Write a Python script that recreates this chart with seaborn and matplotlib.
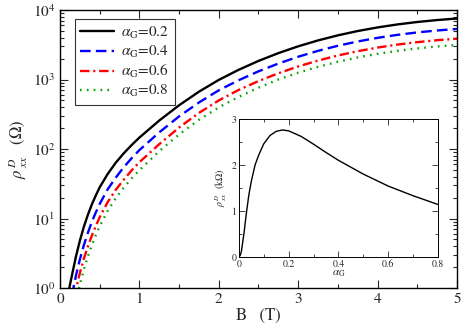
import numpy as np
import seaborn as sns
import matplotlib
matplotlib.use("Agg")
import matplotlib.pyplot as plt
from matplotlib.ticker import MultipleLocator, LogLocator, NullFormatter, FuncFormatter

# ----------------------------
# Data (log10 of rho in Ohm, read on the log axis)
# ----------------------------
B_02 = [0.10, 0.117, 0.15, 0.2, 0.25, 0.3, 0.35, 0.4, 0.45, 0.5, 0.6, 0.7, 0.8, 0.9, 1.0,
        1.25, 1.5, 1.75, 2.0, 2.25, 2.5, 2.75, 3.0, 3.25, 3.5, 3.75, 4.0, 4.25, 4.5, 4.75, 5.0]
log_02 = [-0.094, 0.0, 0.18, 0.45, 0.68, 0.88, 1.05, 1.2, 1.33, 1.45, 1.64, 1.80, 1.935, 2.055,
          2.165, 2.41, 2.63, 2.825, 2.995, 3.14, 3.268, 3.38, 3.478, 3.563, 3.636, 3.698,
          3.75, 3.793, 3.828, 3.856, 3.878]

B_04 = [0.15, 0.2, 0.25, 0.3, 0.35, 0.4, 0.45, 0.5, 0.6, 0.7, 0.8, 0.9, 1.0,
        1.25, 1.5, 1.75, 2.0, 2.25, 2.5, 2.75, 3.0, 3.25, 3.5, 3.75, 4.0, 4.25, 4.5, 4.75, 5.0]
log_04 = [-0.105, 0.175, 0.41, 0.615, 0.79, 0.95, 1.085, 1.21, 1.42, 1.585, 1.735, 1.865, 1.985,
          2.24, 2.47, 2.67, 2.845, 2.99, 3.118, 3.23, 3.328, 3.413, 3.486, 3.548, 3.6, 3.643,
          3.678, 3.706, 3.728]

B_06 = [0.18, 0.2, 0.25, 0.3, 0.35, 0.4, 0.45, 0.5, 0.6, 0.7, 0.8, 0.9, 1.0,
        1.25, 1.5, 1.75, 2.0, 2.25, 2.5, 2.75, 3.0, 3.25, 3.5, 3.75, 4.0, 4.25, 4.5, 4.75, 5.0]
log_06 = [-0.13, -0.02, 0.215, 0.42, 0.595, 0.75, 0.89, 1.02, 1.235, 1.41, 1.555, 1.69, 1.81,
          2.07, 2.31, 2.52, 2.70, 2.85, 2.978, 3.09, 3.188, 3.273, 3.346, 3.408, 3.46, 3.503,
          3.538, 3.566, 3.588]

B_08 = [0.2, 0.25, 0.3, 0.35, 0.4, 0.45, 0.5, 0.6, 0.7, 0.8, 0.9, 1.0,
        1.25, 1.5, 1.75, 2.0, 2.25, 2.5, 2.75, 3.0, 3.25, 3.5, 3.75, 4.0, 4.25, 4.5, 4.75, 5.0]
log_08 = [-0.2, 0.05, 0.265, 0.45, 0.615, 0.76, 0.89, 1.11, 1.29, 1.44, 1.575, 1.695,
          1.97, 2.21, 2.42, 2.60, 2.75, 2.883, 3.0, 3.098, 3.183, 3.256, 3.318, 3.37, 3.413,
          3.448, 3.476, 3.498]

# inset: rho vs alpha_G (kOhm)
alpha = [0, 0.005, 0.01, 0.02, 0.03, 0.04, 0.05, 0.065, 0.08, 0.1, 0.125, 0.15, 0.175,
         0.2, 0.25, 0.3, 0.35, 0.4, 0.5, 0.6, 0.7, 0.8]
rho_alpha = [0, 0.03, 0.12, 0.5, 0.95, 1.35, 1.65, 2.0, 2.22, 2.46, 2.64, 2.73, 2.76,
             2.74, 2.62, 2.45, 2.27, 2.1, 1.8, 1.54, 1.33, 1.14]

labels = [r"$\alpha_{\mathrm{G}}$=0.2", r"$\alpha_{\mathrm{G}}$=0.4",
          r"$\alpha_{\mathrm{G}}$=0.6", r"$\alpha_{\mathrm{G}}$=0.8"]

sns.set_style("ticks")
plt.rcParams["font.family"] = ["STIXGeneral", "DejaVu Serif"]
plt.rcParams["mathtext.fontset"] = "stix"

fig = plt.figure(figsize=(4.63, 3.24), dpi=100)
ax = fig.add_axes([0.1296, 0.111, 0.8574, 0.858])

lw = 1.7
curves = [(B_02, log_02, "black"), (B_04, log_04, "#0000ff"),
          (B_06, log_06, "#ff0000"), (B_08, log_08, "#00a400")]
for (bx, ly, c), lab in zip(curves, labels):
    sns.lineplot(x=bx, y=10 ** np.array(ly), ax=ax, color=c, lw=lw, sort=False, label=lab)

lines = ax.get_lines()
lines[1].set_dashes((4.5, 2.2))
lines[2].set_dashes((4.0, 1.6, 0.9, 1.6))
lines[3].set_dashes((0.7, 2.2))

ax.set_yscale("log")
ax.set_xlim(0, 5)
ax.set_ylim(1, 1e4)
ax.xaxis.set_major_locator(MultipleLocator(1))
ax.xaxis.set_minor_locator(MultipleLocator(0.5))
ax.yaxis.set_major_locator(LogLocator(base=10, numticks=10))
ax.yaxis.set_minor_locator(LogLocator(base=10, subs=np.arange(2, 10), numticks=20))
ax.yaxis.set_minor_formatter(NullFormatter())
ax.tick_params(which="both", direction="in", top=True, right=True, labelsize=11, width=0.8)
ax.tick_params(which="major", length=6)
ax.tick_params(which="minor", length=3)
for s in ax.spines.values():
    s.set_linewidth(1.0)
    s.set_color("black")

ax.set_xlabel("B   (T)", fontsize=12, labelpad=1)
ax.set_ylabel(r"$\rho^{\,D}_{\;xx}$   ($\Omega$)", fontsize=12, labelpad=2)

leg = ax.legend(loc="upper left", bbox_to_anchor=(0.037, 0.966), borderaxespad=0,
                fontsize=11, frameon=True, fancybox=False, edgecolor="black",
                handlelength=2.2, handletextpad=0.5, borderpad=0.35, labelspacing=0.2)
leg.get_frame().set_linewidth(0.8)

# ----------------------------
# Inset
# ----------------------------
ins = fig.add_axes([0.516, 0.207, 0.43, 0.426])
sns.lineplot(x=alpha, y=rho_alpha, ax=ins, color="black", lw=1.0, sort=False)
ins.set_xlim(0, 0.8)
ins.set_ylim(0, 3)
ins.xaxis.set_major_locator(MultipleLocator(0.2))
ins.xaxis.set_minor_locator(MultipleLocator(0.1))
ins.xaxis.set_major_formatter(FuncFormatter(lambda v, p: "0" if abs(v) < 1e-9 else f"{v:.1f}"))
ins.yaxis.set_major_locator(MultipleLocator(1))
ins.yaxis.set_minor_locator(MultipleLocator(0.5))
ins.tick_params(which="both", direction="in", top=True, right=True, labelsize=7,
                pad=1.5, width=0.6)
ins.tick_params(which="major", length=4)
ins.tick_params(which="minor", length=2)
for s in ins.spines.values():
    s.set_linewidth(0.7)
    s.set_color("black")
ins.set_xlabel(r"$\alpha_{\mathrm{G}}$", fontsize=8, labelpad=0)
ins.set_ylabel(r"$\rho^{\,D}_{\;xx}$  (k$\Omega$)", fontsize=7, labelpad=2)

fig.savefig("out.png", dpi=100)
